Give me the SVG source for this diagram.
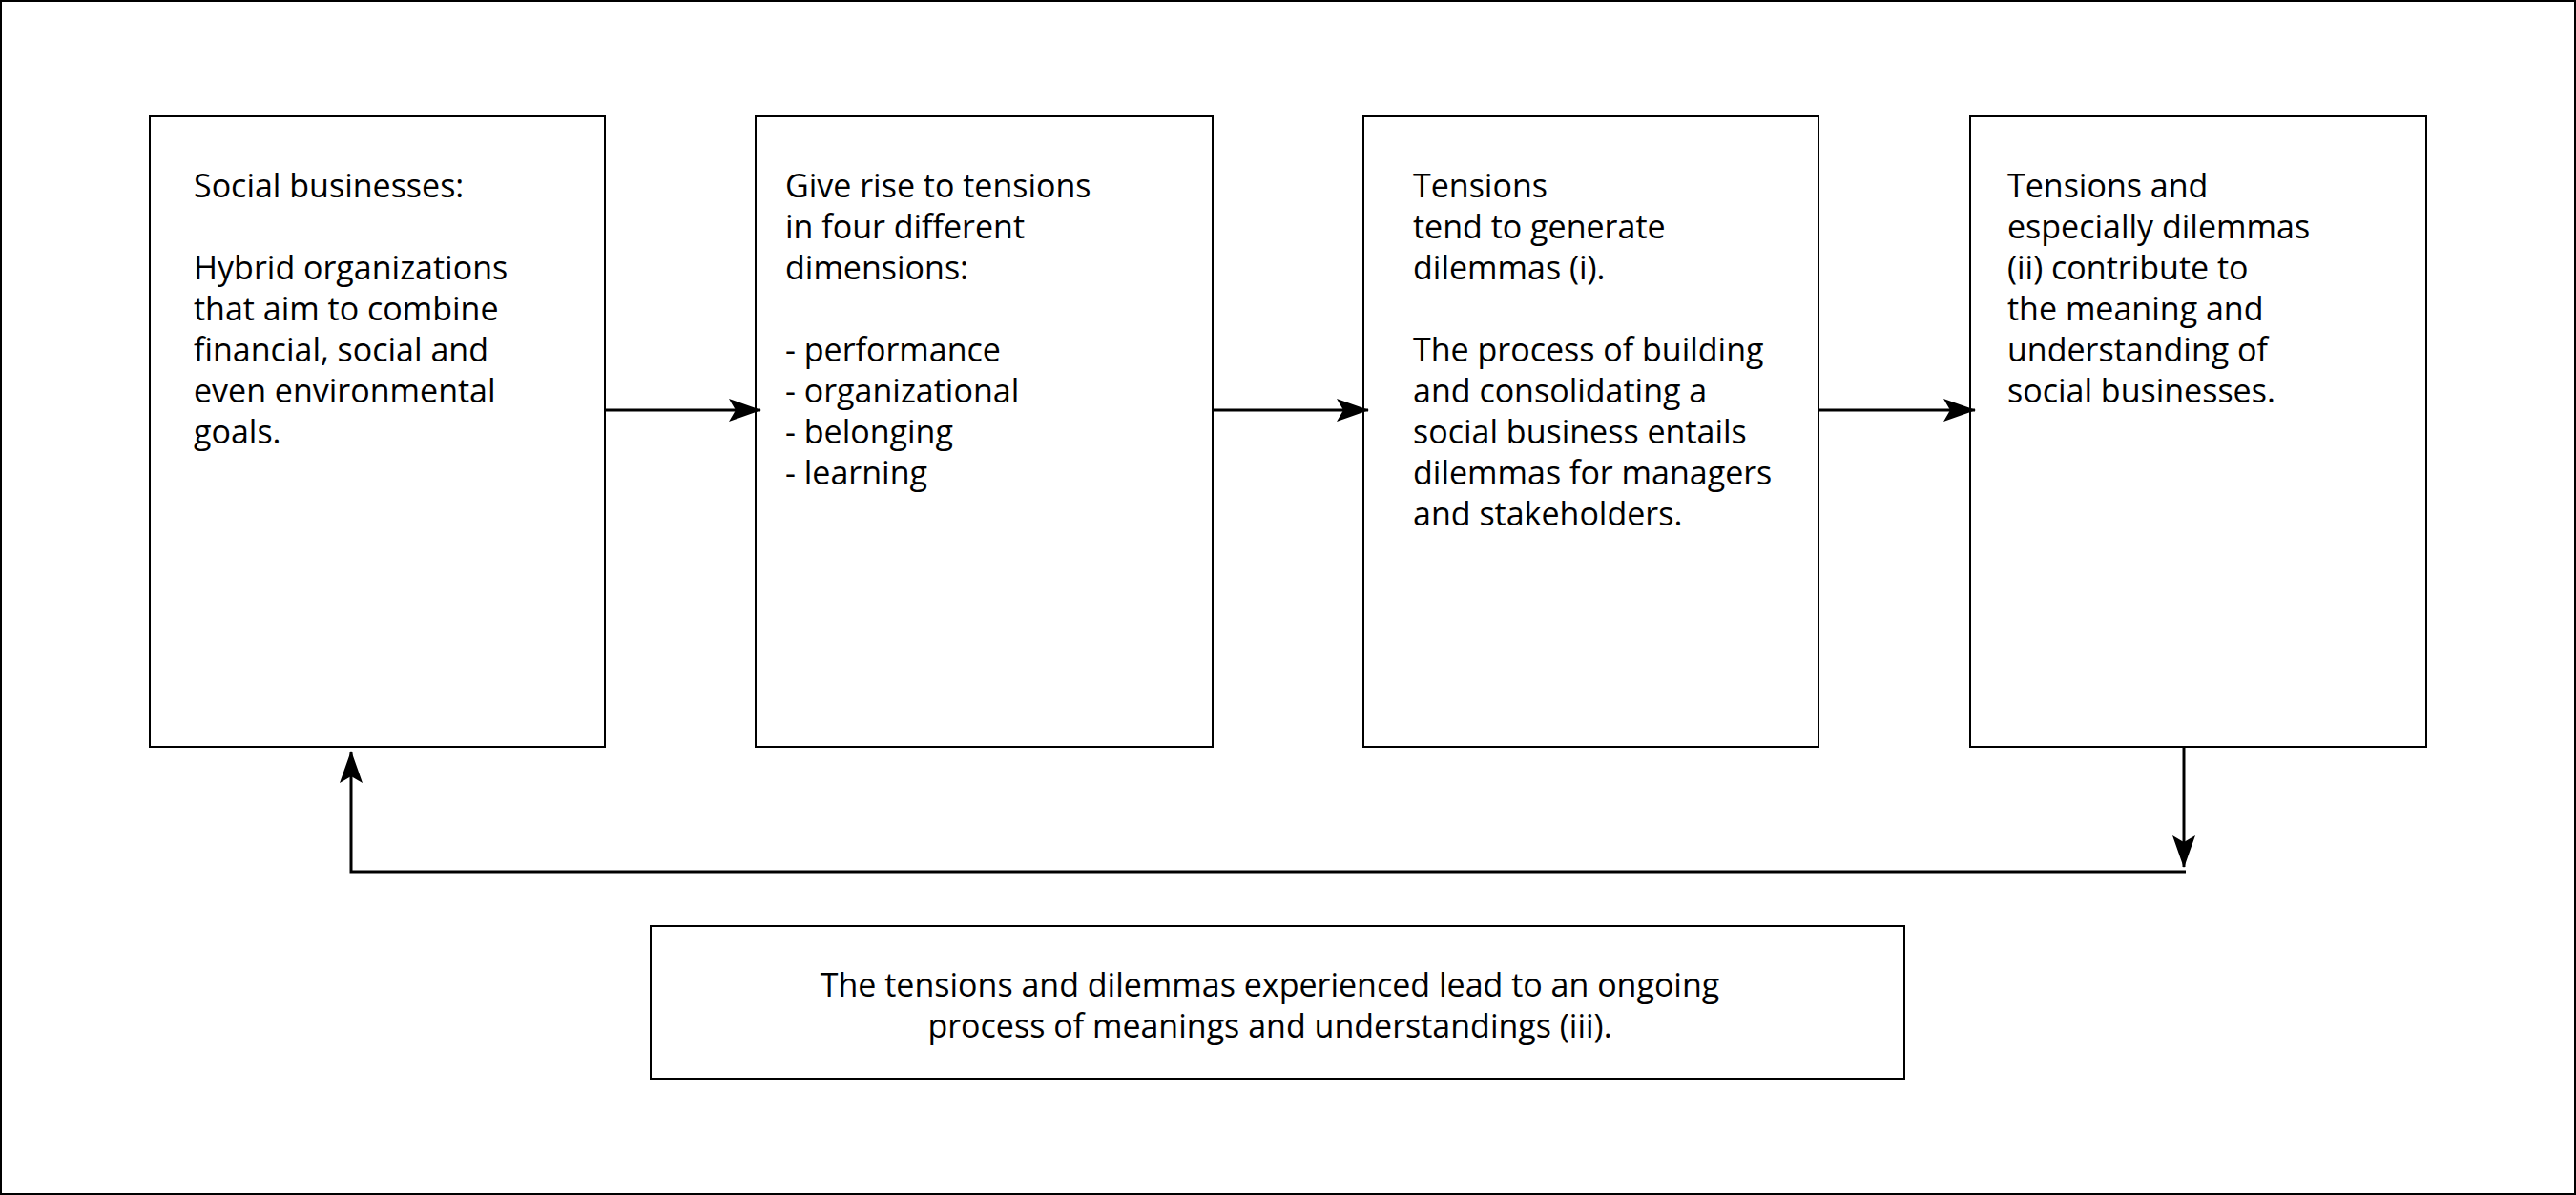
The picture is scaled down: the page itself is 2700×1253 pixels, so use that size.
<svg xmlns="http://www.w3.org/2000/svg" width="2700" height="1253" viewBox="0 0 2700 1253">
<style>
.b{fill:#fff;stroke:#000;stroke-width:2}
.t{font-family:"Open Sans","Liberation Sans",sans-serif;font-size:34px;fill:#000}
.c{fill:none;stroke:#000;stroke-width:3}
</style>
<defs><marker id="a" markerWidth="12" markerHeight="10" refX="11" refY="5" orient="auto" markerUnits="userSpaceOnUse" viewBox="0 0 12 10"><path d="M0,0L12,5L0,10L3,5z" fill="#000" transform="scale(1)"/></marker>
<marker id="h" viewBox="0 0 34 24" refX="33" refY="12" markerWidth="34" markerHeight="24" orient="auto" markerUnits="userSpaceOnUse"><path d="M0,0L34,12L0,24L7,12z" fill="#000"/></marker></defs>
<rect x="1" y="1" width="2698" height="1251" fill="#fff" stroke="#000" stroke-width="2"/>
<g id="n1"><rect class="b" x="157" y="122" width="477" height="661"/>
<text class="t" x="203" y="207">Social businesses:<tspan x="203" dy="86">Hybrid organizations</tspan><tspan x="203" dy="43">that aim to combine</tspan><tspan x="203" dy="43">financial, social and</tspan><tspan x="203" dy="43">even environmental</tspan><tspan x="203" dy="43">goals.</tspan></text></g>
<g id="n2"><rect class="b" x="792" y="122" width="479" height="661"/>
<text class="t" x="823" y="207">Give rise to tensions<tspan x="823" dy="43">in four different</tspan><tspan x="823" dy="43">dimensions:</tspan><tspan x="823" dy="86">- performance</tspan><tspan x="823" dy="43">- organizational</tspan><tspan x="823" dy="43">- belonging</tspan><tspan x="823" dy="43">- learning</tspan></text></g>
<g id="n3"><rect class="b" x="1429" y="122" width="477" height="661"/>
<text class="t" x="1481" y="207">Tensions<tspan x="1481" dy="43">tend to generate</tspan><tspan x="1481" dy="43">dilemmas (i).</tspan><tspan x="1481" dy="86">The process of building</tspan><tspan x="1481" dy="43">and consolidating a</tspan><tspan x="1481" dy="43">social business entails</tspan><tspan x="1481" dy="43">dilemmas for managers</tspan><tspan x="1481" dy="43">and stakeholders.</tspan></text></g>
<g id="n4"><rect class="b" x="2065" y="122" width="478" height="661"/>
<text class="t" x="2104" y="207">Tensions and<tspan x="2104" dy="43">especially dilemmas</tspan><tspan x="2104" dy="43">(ii) contribute to</tspan><tspan x="2104" dy="43">the meaning and</tspan><tspan x="2104" dy="43">understanding of</tspan><tspan x="2104" dy="43">social businesses.</tspan></text></g>
<g id="n5"><rect class="b" x="682" y="971" width="1314" height="160"/>
<text class="t" text-anchor="middle" x="1331" y="1045">The tensions and dilemmas experienced lead to an ongoing<tspan x="1331" dy="43">process of meanings and understandings (iii).</tspan></text></g>
<g id="connectors">
<path class="c" d="M634,430H797" marker-end="url(#h)"/>
<path class="c" d="M1271,430H1434" marker-end="url(#h)"/>
<path class="c" d="M1906,430H2070" marker-end="url(#h)"/>
<path class="c" d="M2289,783V909" marker-end="url(#h)"/>
<path class="c" d="M2291,914H368V788" marker-end="url(#h)"/>
</g>
</svg>
